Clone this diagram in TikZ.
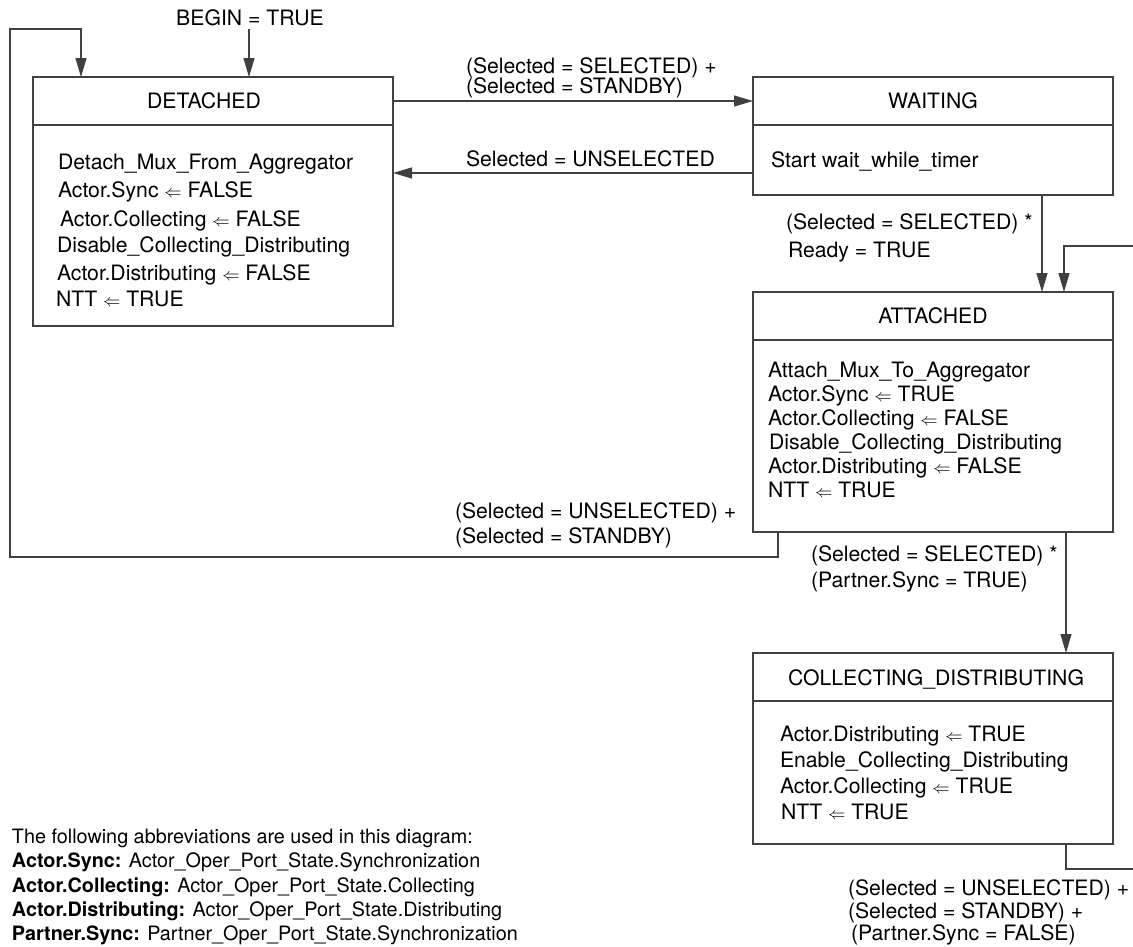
\documentclass[tikz,border=0pt]{standalone}
\usepackage{fontspec}
\setmainfont{TeX Gyre Heros}
\usetikzlibrary{arrows.meta,calc}
\definecolor{lc}{gray}{0.25}
\newcommand{\lar}{{\fontsize{18}{18}\selectfont$\Leftarrow$}}
\begin{document}
\begin{tikzpicture}[x=1pt,y=-1pt,
  every node/.style={inner sep=0pt, outer sep=0pt, font=\fontsize{21.2}{25}\selectfont},
  statebox/.style={draw=lc, line width=1.2pt, anchor=north west, minimum width=360pt},
  conn/.style={draw=lc, line width=1.2pt},
  arr/.style={conn, -{Triangle[length=19pt,width=11pt]}},
  txt/.style={anchor=base west},
  lgd/.style={anchor=base west, font=\fontsize{19.8}{24}\selectfont},
  ttl/.style={anchor=base}]
\clip (0,0) rectangle (1133,946);
% states
\node[statebox, minimum height=249pt] (det) at (33,77) {};
\node[statebox, minimum height=118pt] (wait) at (753,77) {};
\node[statebox, minimum height=240pt] (att) at (753,292) {};
\node[statebox, minimum height=191pt] (col) at (753,653) {};
\foreach \s in {det,wait,att,col}
  \draw[conn] ($(\s.north west)+(0,48)$) -- ($(\s.north east)+(0,48)$);
% titles
\node[ttl] (dett) at (204,108) {DETACHED};
\node[ttl] (waitt) at (933,108) {WAITING};
\node[ttl] (attt) at (933,323) {ATTACHED};
\node[ttl] (colt) at (936,685) {COLLECTING\_DISTRIBUTING};
% DETACHED body
\node[txt] (d1) at (58,169) {Detach\_Mux\_From\_Aggregator};
\node[txt] (d2) at (58,197) {Actor.Sync \lar{} FALSE};
\node[txt] (d3) at (60,226) {Actor.Collecting \lar{} FALSE};
\node[txt] (d4) at (57,252) {Disable\_Collecting\_Distributing};
\node[txt] (d5) at (57,280) {Actor.Distributing \lar{} FALSE};
\node[txt] (d6) at (56,306) {NTT \lar{} TRUE};
% WAITING body
\node[txt] (w1) at (771,167) {Start wait\_while\_timer};
% ATTACHED body
\node[txt] (a1) at (768,377) {Attach\_Mux\_To\_Aggregator};
\node[txt] (a2) at (768,401) {Actor.Sync \lar{} TRUE};
\node[txt] (a3) at (768,425) {Actor.Collecting \lar{} FALSE};
\node[txt] (a4) at (769,449) {Disable\_Collecting\_Distributing};
\node[txt] (a5) at (768,473) {Actor.Distributing \lar{} FALSE};
\node[txt] (a6) at (768,497) {NTT \lar{} TRUE};
% COLLECTING body
\node[txt] (c1) at (780,741) {Actor.Distributing \lar{} TRUE};
\node[txt] (c2) at (780,767) {Enable\_Collecting\_Distributing};
\node[txt] (c3) at (780,793) {Actor.Collecting \lar{} TRUE};
\node[txt] (c4) at (781,819) {NTT \lar{} TRUE};
% labels
\node[ttl] (bgn) at (250,25) {BEGIN = TRUE};
\node[txt] (l1a) at (466,73) {(Selected = SELECTED) +};
\node[txt] (l1b) at (466,93) {(Selected = STANDBY)};
\node[txt] (l2) at (466,166) {Selected = UNSELECTED};
\node[txt] (l3a) at (786,229) {(Selected = SELECTED) *};
\node[txt] (l3b) at (788,257) {Ready = TRUE};
\node[txt] (l4a) at (455,518) {(Selected = UNSELECTED) +};
\node[txt] (l4b) at (455,543) {(Selected = STANDBY)};
\node[txt] (l5a) at (811,561) {(Selected = SELECTED) *};
\node[txt] (l5b) at (811,587) {(Partner.Sync = TRUE)};
\node[txt] (l6a) at (848,895) {(Selected = UNSELECTED) +};
\node[txt] (l6b) at (848,918) {(Selected = STANDBY) +};
\node[txt] (l6c) at (851,940) {(Partner.Sync = FALSE)};
% legend
\node[lgd] (g0) at (12,843) {The following abbreviations are used in this diagram:};
\node[lgd] (g1) at (12,867) {\bfseries Actor.Sync:\mdseries{} Actor\_Oper\_Port\_State.Synchronization};
\node[lgd] (g2) at (12,892) {\bfseries Actor.Collecting:\mdseries{} Actor\_Oper\_Port\_State.Collecting};
\node[lgd] (g3) at (12,916) {\bfseries Actor.Distributing:\mdseries{} Actor\_Oper\_Port\_State.Distributing};
\node[lgd] (g4) at (12,940) {\bfseries Partner.Sync:\mdseries{} Partner\_Oper\_Port\_State.Synchronization};
% connectors
\coordinate (bgnend) at (249,29);
\coordinate (cx) at (1042,0);
\coordinate (cx2) at (1066,0);
\coordinate (lx) at (778,0);
\coordinate (lb) at (10,557);
\coordinate (lt) at (10,29);
\coordinate (rx1) at (1066,0);
\coordinate (rx2) at (1064,0);
\coordinate (rb) at (1140,869);
\coordinate (rt) at (1140,246);
\draw[arr] (bgnend) -- (bgnend |- det.north);
\draw[arr] ($(det.north east)+(0,24)$) -- ($(wait.north west)+(0,24)$);
\draw[arr] ($(wait.north west)+(0,96)$) -- ($(det.north east)+(0,96)$);
\draw[arr] (wait.south -| cx) -- (att.north -| cx);
\draw[arr] (att.south -| cx2) -- (col.north -| cx2);
\draw[arr] (att.south -| lx) |- (lb) -- (lt) -| ($(det.north west)+(48,0)$);
\draw[arr] (col.south -| rx1) |- (rb) -- (rt) -| (att.north -| rx2);
\end{tikzpicture}
\end{document}
